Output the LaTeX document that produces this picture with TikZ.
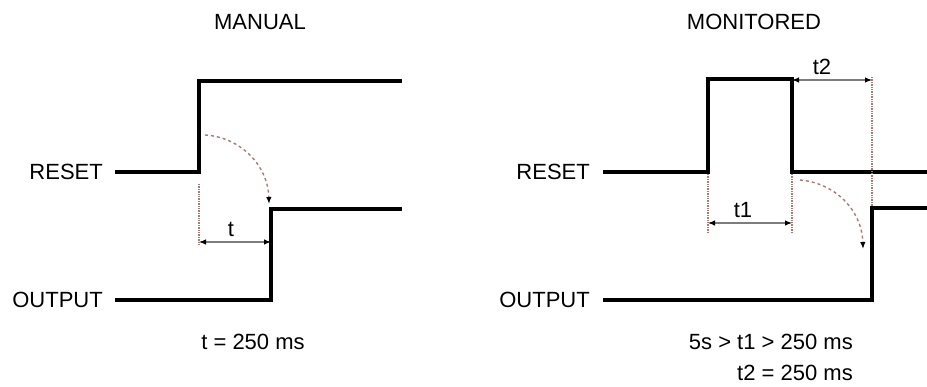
\documentclass[tikz,border=0pt]{standalone}
\usepackage{fontspec}
\setmainfont{Liberation Sans}
\usetikzlibrary{arrows.meta}
\definecolor{guide}{RGB}{165,125,120}
\definecolor{dimgray}{RGB}{125,125,125}

\begin{document}
\begin{tikzpicture}[
      x=1pt, y=-1pt,
      lbl/.style={font=\fontsize{22}{26}\selectfont, inner sep=0pt},
      wave/.style={line width=3.3pt, line join=miter},
      guideline/.style={guide, densely dotted, line width=1.4pt},
      dim/.style={dimgray, line width=1.1pt, {Latex[length=7pt,width=5.5pt,color=black]}-{Latex[length=7pt,width=5.5pt,color=black]}},
      cause/.style={guide, dashed, line width=1.4pt, -{Latex[length=7pt,width=5.5pt,color=black]}}
    ]
    \useasboundingbox (0,0) rectangle (927,387);

    % manual reset
    \node[lbl] (mtitle) at (260,22) {MANUAL};
    \node[lbl, anchor=east] (mreset) at (103,172) {RESET};
    \node[lbl, anchor=east] (moutput) at (103,300) {OUTPUT};
    \coordinate (mr0) at (115,172);
    \coordinate (mr1) at (199,172);
    \coordinate (mr2) at (199,81);
    \coordinate (mr3) at (402,81);
    \coordinate (mo0) at (115,300);
    \coordinate (mo1) at (271,300);
    \coordinate (mo2) at (271,209);
    \coordinate (mo3) at (402,209);
    \draw[wave] (mr0) -- (mr1) -- (mr2) -- (mr3);
    \draw[wave] (mo0) -- (mo1) -- (mo2) -- (mo3);

    \coordinate (mg0) at (199,184);
    \coordinate (mg1) at (199,245);
    \draw[guideline] (mg0) -- (mg1);
    \coordinate (mt0) at (199,242);
    \coordinate (mt1) at (271,242);
    \draw[dim] (mt0) -- (mt1);
    \node[lbl] (mt) at (231,229) {t};
    \coordinate (mc0) at (205,135);
    \coordinate (mc1) at (269,204);
    \draw[cause] (mc0) .. controls (240,137) and (268,165) .. (mc1);
    \node[lbl] (mnote) at (253,342) {t = 250 ms};

    % monitored reset
    \node[lbl] (ntitle) at (754,22) {MONITORED};
    \node[lbl, anchor=east] (nreset) at (590,172) {RESET};
    \node[lbl, anchor=east] (noutput) at (590,300) {OUTPUT};
    \coordinate (nr0) at (603,172);
    \coordinate (nr1) at (708,172);
    \coordinate (nr2) at (708,79);
    \coordinate (nr3) at (792,79);
    \coordinate (nr4) at (792,172);
    \coordinate (nr5) at (927,172);
    \coordinate (no0) at (603,300);
    \coordinate (no1) at (872,300);
    \coordinate (no2) at (872,208);
    \coordinate (no3) at (927,208);
    \draw[wave] (nr0) -- (nr1) -- (nr2) -- (nr3) -- (nr4) -- (nr5);
    \draw[wave] (no0) -- (no1) -- (no2) -- (no3);

    \coordinate (ng0) at (708,174);
    \coordinate (ng1) at (708,233);
    \coordinate (ng2) at (792,174);
    \coordinate (ng3) at (792,233);
    \coordinate (ng4) at (872,77);
    \coordinate (ng5) at (872,206);
    \draw[guideline] (ng0) -- (ng1);
    \draw[guideline] (ng2) -- (ng3);
    \draw[guideline] (ng4) -- (ng5);
    \coordinate (nt0) at (708,223);
    \coordinate (nt1) at (792,223);
    \draw[dim] (nt0) -- (nt1);
    \node[lbl] (nt1lbl) at (743,210) {t1};
    \coordinate (nu0) at (792,80);
    \coordinate (nu1) at (872,80);
    \draw[dim] (nu0) -- (nu1);
    \node[lbl] (nt2lbl) at (822,67) {t2};
    \coordinate (nc0) at (800,180);
    \coordinate (nc1) at (863,249);
    \draw[cause] (nc0) .. controls (835,183) and (862,210) .. (nc1);
    \node[lbl, anchor=east] (nnote1) at (853,342) {5s > t1 > 250 ms};
    \node[lbl, anchor=east] (nnote2) at (853,373) {t2 = 250 ms};
  \end{tikzpicture}
\end{document}
